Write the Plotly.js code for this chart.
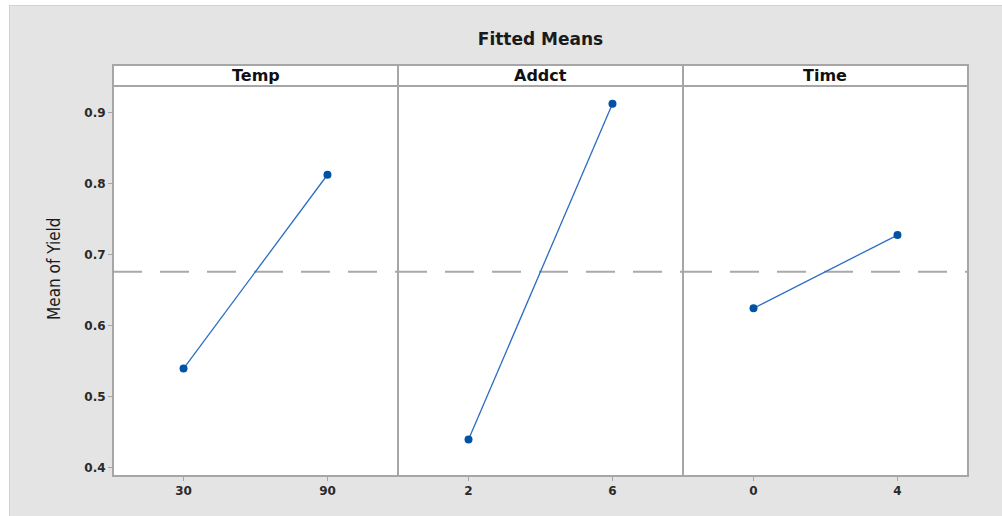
<!DOCTYPE html>
<html>
<head>
<meta charset="utf-8">
<script src="https://cdn.plot.ly/plotly-3.0.1.min.js"></script>
<style>
html,body{margin:0;padding:0;background:#ffffff;}
#wrap{position:absolute;left:9px;top:5px;width:993px;height:511px;border-left:1px solid #d2d2d2;border-top:1px solid #d2d2d2;box-sizing:border-box;}
#chart{width:992px;height:510px;}
</style>
</head>
<body>
<div id="wrap"><div id="chart"></div></div>
<script>
const factors = ["Temp", "Addct", "Time"];
const tempLevels = [30, 90];
const tempMeans = [0.540, 0.813];
const addctLevels = [2, 6];
const addctMeans = [0.440, 0.913];
const timeLevels = [0, 4];
const timeMeans = [0.625, 0.728];
const overallMean = 0.6765;
const yTicks = [0.4, 0.5, 0.6, 0.7, 0.8, 0.9];

const levels = [tempLevels, addctLevels, timeLevels];
const means = [tempMeans, addctMeans, timeMeans];

const FONT = "DejaVu Sans, Verdana, sans-serif";
const lineColor = "#2b6cc4";
const markerColor = "#0053a4";
const frameColor = "#a6a6a6";
const tickFont = {family: FONT, size: 12, color: "#2a2a2a", weight: 700};

const traces = [];
const layout = {
  width: 992, height: 510,
  paper_bgcolor: "#e4e4e4",
  plot_bgcolor: "#ffffff",
  margin: {l: 103, r: 34, t: 80, b: 40},
  showlegend: false,
  title: {text: "Fitted Means", x: 0.5, xanchor: "center", xref: "paper", y: 0.935, yanchor: "middle",
          font: {family: FONT, size: 17, color: "#1a1a1a", weight: 700}},
  shapes: [],
  annotations: []
};

const domains = [[0, 1/3], [1/3, 2/3], [2/3, 1]];
for (let i = 0; i < 3; i++) {
  const ax = i === 0 ? "x" : "x" + (i + 1);
  const axKey = i === 0 ? "xaxis" : "xaxis" + (i + 1);
  const lv = levels[i];
  const span = lv[1] - lv[0];
  traces.push({
    x: lv, y: means[i], xaxis: ax, yaxis: "y", type: "scatter", mode: "lines+markers",
    line: {color: lineColor, width: 1.3},
    marker: {color: markerColor, size: 8, symbol: "circle"},
    hoverinfo: "x+y"
  });
  layout[axKey] = {
    domain: domains[i], anchor: "y",
    range: [lv[0] - 0.49 * span, lv[1] + 0.49 * span],
    tickvals: lv, ticktext: lv.map(String),
    ticks: "outside", ticklen: 4, tickcolor: frameColor, tickwidth: 1,
    showgrid: false, zeroline: false, showline: false,
    tickfont: tickFont, fixedrange: true
  };
  layout.shapes.push({type: "line", xref: ax, yref: "y",
    x0: layout[axKey].range[0], x1: layout[axKey].range[1], y0: overallMean, y1: overallMean,
    line: {color: "#a9a9a9", width: 2, dash: "29px,18px"}, layer: "below"});
  layout.shapes.push({type: "rect", xref: "paper", yref: "paper",
    x0: domains[i][0], x1: domains[i][1], y0: 1, y1: 1.054,
    fillcolor: "#ffffff", line: {color: frameColor, width: 2}});
  layout.annotations.push({text: factors[i], xref: "paper", yref: "paper",
    x: (domains[i][0] + domains[i][1]) / 2, y: 1.027, xanchor: "center", yanchor: "middle",
    showarrow: false, font: {family: FONT, size: 16, color: "#111111", weight: 700}});
}
layout.shapes.push({type: "rect", xref: "paper", yref: "paper", x0: 0, x1: 1, y0: 0, y1: 1,
  line: {color: frameColor, width: 2}, fillcolor: "rgba(0,0,0,0)"});
layout.shapes.push({type: "line", xref: "paper", yref: "paper", x0: 1/3, x1: 1/3, y0: 0, y1: 1,
  line: {color: frameColor, width: 2}});
layout.shapes.push({type: "line", xref: "paper", yref: "paper", x0: 2/3, x1: 2/3, y0: 0, y1: 1,
  line: {color: frameColor, width: 2}});

layout.annotations.push({text: "Mean of Yield", xref: "paper", yref: "paper",
  x: -0.069, y: 0.531, xanchor: "center", yanchor: "middle", textangle: -90,
  showarrow: false, font: {family: "DejaVu Sans Condensed, DejaVu Sans, sans-serif", size: 17, color: "#1a1a1a"}});

layout.yaxis = {
  range: [0.3887, 0.938],
  tickvals: yTicks, ticktext: yTicks.map(v => v.toFixed(1)),
  ticks: "outside", ticklen: 4, tickcolor: frameColor, tickwidth: 1,
  showgrid: false, zeroline: false, showline: false,
  tickfont: tickFont, fixedrange: true
};

Plotly.newPlot("chart", traces, layout, {displayModeBar: false, staticPlot: true});
</script>
</body>
</html>
